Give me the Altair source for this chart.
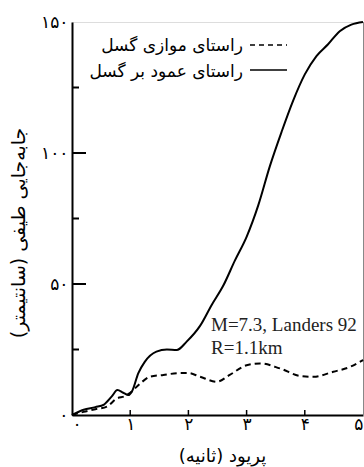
import altair as alt
import pandas as pd

# perpendicular-to-fault (solid)
period_perp = [0, 0.2, 0.4, 0.55, 0.68, 0.78, 0.88, 0.97, 1.03, 1.14, 1.25, 1.45, 1.63, 1.8, 1.97,
               2.2, 2.4, 2.6, 2.8, 3.0, 3.2, 3.4, 3.6, 3.8, 4.0, 4.2, 4.4, 4.6, 4.8, 5.0]
disp_perp = [0, 2, 3, 4, 7, 9.5, 8.5, 7.6, 9, 16, 20.3, 24.2, 25, 24.8, 28,
             34, 42, 49.4, 59, 68, 80, 95, 108, 120, 130, 137, 141.5, 146.5, 149, 150]

# parallel-to-fault (dashed)
period_par = [0, 0.2, 0.4, 0.6, 0.77, 0.91, 1.0, 1.17, 1.34, 1.57, 1.86, 2.0, 2.2, 2.49, 2.71,
              3.0, 3.23, 3.57, 3.92, 4.15, 4.49, 4.78, 5.0]
disp_par = [0, 1.2, 2.2, 3.2, 6.3, 7.2, 8.5, 12, 14.6, 15.3, 16, 16, 14.6, 12.7, 15.3,
            19, 19.7, 17.8, 14.9, 14.6, 16.5, 18.4, 21]

x_ticks = [0, 1, 2, 3, 4, 5]
x_tick_labels = ['۰', '۱', '۲', '۳', '۴', '۵']
y_major = [0, 50, 100, 150]
y_major_labels = ['۰', '۵۰', '۱۰۰', '۱۵۰']
y_minor = [25, 75, 125]

legend_labels = ['راستای موازی گسل', 'راستای عمود بر گسل']
x_title = 'پریود (ثانیه)\u200f'
y_title = 'جابه‌جایی طیفی (سانتیمتر)\u200f'
note_lines = ['M=7.3, Landers 92', 'R=1.1km']

W, H = 291, 393
FONT = 'DejaVu Sans'

xs = alt.Scale(domain=[0, 5], nice=False, zero=False)
ys = alt.Scale(domain=[0, 150], nice=False)

x_arr = "[" + ",".join("'%s'" % s for s in x_tick_labels) + "]"
y_arr = "[" + ",".join("'%s'" % s for s in y_major_labels) + "]"

xaxis = alt.Axis(values=x_ticks, ticks=False, labelExpr=x_arr + "[datum.value]",
                 title=x_title, labelFont=FONT, labelFontSize=17, labelColor='black',
                 labelPadding=1, titleFont=FONT, titleFontSize=18, titleFontWeight='normal',
                 titleColor='black', titleX=150, titleY=41, titleBaseline='middle',
                 domainColor='black', domainWidth=2, grid=False)
yaxis = alt.Axis(values=y_major, ticks=False, labelExpr=y_arr + "[datum.value/50]",
                 title=y_title, labelFont=FONT, labelFontSize=17, labelColor='black',
                 labelPadding=4, titleFont=FONT, titleFontSize=19, titleFontWeight='normal',
                 titleColor='black', titleX=-54, titleY=H / 2 + 14, titleBaseline='middle',
                 domainColor='black', domainWidth=2, grid=False)

perp = pd.DataFrame({'x': period_perp, 'y': disp_perp})
par = pd.DataFrame({'x': period_par, 'y': disp_par})

solid = alt.Chart(perp).mark_line(color='black', strokeWidth=2, interpolate='monotone').encode(
    x=alt.X('x:Q', scale=xs, axis=xaxis),
    y=alt.Y('y:Q', scale=ys, axis=yaxis),
)
dashed = alt.Chart(par).mark_line(color='black', strokeWidth=2, strokeDash=[6, 4],
                                  interpolate='monotone').encode(
    x=alt.X('x:Q', scale=xs),
    y=alt.Y('y:Q', scale=ys),
)

ymaj = alt.Chart(pd.DataFrame({'v': y_major[1:3]})).mark_rule(color='black', strokeWidth=2).encode(
    y=alt.Y('v:Q', scale=ys), x=alt.value(0), x2=alt.value(14))
ymin = alt.Chart(pd.DataFrame({'v': y_minor})).mark_rule(color='black', strokeWidth=2).encode(
    y=alt.Y('v:Q', scale=ys), x=alt.value(0), x2=alt.value(7))
xt = alt.Chart(pd.DataFrame({'v': x_ticks[1:5]})).mark_rule(color='black', strokeWidth=1.5).encode(
    x=alt.X('v:Q', scale=xs), y=alt.value(H + 1), y2=alt.value(H - 5))

leg_df = pd.DataFrame({'t': legend_labels, 'row': [0, 1]})
leg_text = alt.Chart(leg_df).mark_text(font=FONT, fontSize=17, align='right', baseline='middle',
                                        color='black').encode(
    text='t:N', x=alt.value(171),
    y=alt.Y('row:Q', scale=alt.Scale(domain=[0, 1], range=[24, 50]), axis=None))
leg_dash = alt.Chart(pd.DataFrame({'a': [0]})).mark_rule(color='black', strokeWidth=1.5,
                                                         strokeDash=[5, 4]).encode(
    x=alt.value(178), x2=alt.value(215), y=alt.value(23))
leg_solid = alt.Chart(pd.DataFrame({'a': [0]})).mark_rule(color='black', strokeWidth=1.5).encode(
    x=alt.value(178), x2=alt.value(215), y=alt.value(48))

note_df = pd.DataFrame({'t': note_lines, 'row': [0, 1]})
note = alt.Chart(note_df).mark_text(font='Liberation Serif', fontSize=19, align='left',
                                    baseline='alphabetic', color='#222').encode(
    text='t:N', x=alt.value(139),
    y=alt.Y('row:Q', scale=alt.Scale(domain=[0, 1], range=[309, 332]), axis=None))

chart = alt.layer(solid, dashed, ymaj, ymin, xt, leg_text, leg_dash, leg_solid, note).resolve_scale(
    y='independent'
).properties(
    width=W, height=H,
    autosize=alt.AutoSizeParams(type='none'),
    padding={'left': 72, 'top': 22, 'right': 1, 'bottom': 52},
).configure_view(stroke='black', strokeWidth=2).configure(background='white')

chart.save('out.html', embed_options={'renderer': 'svg', 'actions': False})
